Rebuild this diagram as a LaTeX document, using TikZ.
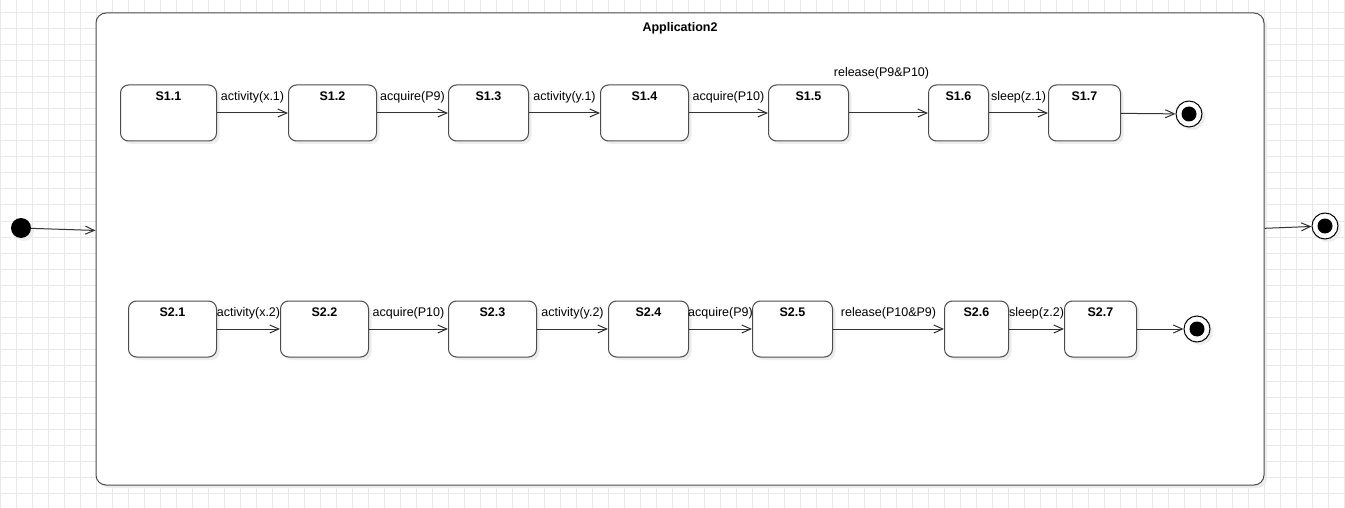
\documentclass[tikz,border=0pt]{standalone}
\usepackage{fontspec}
\setmainfont{Liberation Sans}
\usetikzlibrary{arrows.meta,shadows}
\tikzstyle{gridline}=[draw=black!9, line width=1pt]
\tikzstyle{shad}=[drop shadow={shadow xshift=3pt, shadow yshift=-3pt, fill=black!7, opacity=1}]
\tikzstyle{box}=[draw=black!70, line width=1pt, rectangle, rounded corners=10pt, fill=white, shad]
\tikzstyle{state}=[draw=black!70, line width=1pt, rectangle, rounded corners=8pt, fill=white, minimum height=56pt, inner sep=0pt, shad]
\tikzstyle{stname}=[anchor=north, font=\fontsize{12.5}{14}\selectfont\bfseries]
\tikzstyle{init}=[circle, fill=black, minimum size=20pt, inner sep=0pt, shad]
\tikzstyle{final}=[circle, draw=black, line width=1pt, fill=white, minimum size=26pt, inner sep=0pt, shad,
  path picture={\fill[black] (path picture bounding box.center) circle (7.5pt);}]
\tikzstyle{trans}=[draw=black!80, line width=1pt, -{Straight Barb[length=9pt,width=8pt]}]
\tikzstyle{lbl}=[yshift=16pt, inner sep=1pt]

\begin{document}
\begin{tikzpicture}[x=1pt, y=-1pt, label distance=-4pt, font=\fontsize{12.5}{14}\selectfont]
\useasboundingbox (0,0) rectangle (1345,508);
\fill[white] (0,0) rectangle (1345,508);
\begin{scope}[yshift=-13pt]
\draw[gridline, step=16pt] (0,-16) grid (1345,508);
\end{scope}
% container
\node[box, minimum width=1168pt, minimum height=472pt,
  label={[stname, yshift=-2pt]north:Application2}] (app) at (680,249) {};
\node[init] (i) at (21,228) {};
\node[final] (f0) at (1325,226) {};
\draw[trans] (i) -- (app);
\draw[trans] (app) -- (f0);
% first row
\foreach \n/\x/\w in {1/120/96, 2/288/88, 3/448/80, 4/600/88, 5/768/80, 6/928/60, 7/1048/72}
  \node[state, minimum width=\w pt, anchor=west, label={[stname]north:S1.\n}] (a\n) at (\x,113) {};
\node[final] (f1) at (1189,114) {};
\foreach \f/\t/\l in {1/2/activity(x.1), 2/3/acquire(P9), 3/4/activity(y.1), 4/5/acquire(P10), 6/7/sleep(z.1)}
  \draw[trans] (a\f) -- node[lbl] {\l} (a\t);
\draw[trans] (a5) -- node[lbl, xshift=-7pt, yshift=24pt] {release(P9\&P10)} (a6);
\draw[trans] (a7) -- (f1);
% second row
\foreach \n/\x/\w in {1/128/88, 2/280/88, 3/448/88, 4/608/80, 5/752/80, 6/944/64, 7/1064/72}
  \node[state, minimum width=\w pt, anchor=west, label={[stname]north:S2.\n}] (b\n) at (\x,329) {};
\node[final] (f2) at (1197,329) {};
\foreach \f/\t/\l in {1/2/activity(x.2), 2/3/acquire(P10), 3/4/activity(y.2), 4/5/acquire(P9), 5/6/release(P10\&P9), 6/7/sleep(z.2)}
  \draw[trans] (b\f) -- node[lbl] {\l} (b\t);
\draw[trans] (b7) -- (f2);
\end{tikzpicture}
\end{document}
